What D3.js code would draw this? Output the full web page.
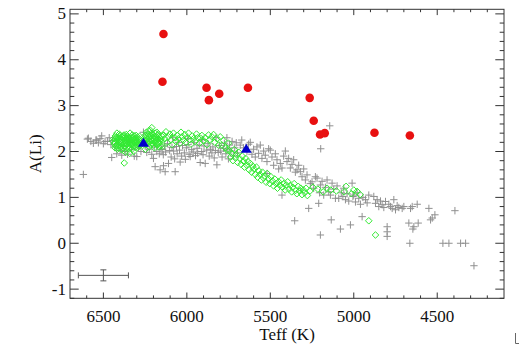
<!DOCTYPE html>
<html><head><meta charset="utf-8">
<script src="https://cdn.jsdelivr.net/npm/d3@7"></script>
<style>body{margin:0;background:#fff}svg{display:block}</style>
</head><body>
<svg id="c" width="520" height="345"></svg>
<script>
const xTicks = [6500, 6000, 5500, 5000, 4500];
const yTicks = [-1, 0, 1, 2, 3, 4, 5];
const xLabel = "Teff (K)";
const yLabel = "A(Li)";

const redStars = [[6140,4.56],[6146,3.52],[5882,3.39],[5868,3.12],[5806,3.26],[5634,3.39],
 [5264,3.17],[5240,2.67],[5202,2.37],[5174,2.40],[4876,2.41],[4664,2.35]];
const blueStars = [[6260,2.19],[5644,2.06]];
const errorBar = {teff:6500, ali:-0.70, dT:150, dA:0.12};

const greenStars = [
 [6438,2.28],[6432,2.20],[6428,2.34],[6425,2.12],[6420,2.25],[6416,2.05],[6412,2.30],[6408,2.18],[6405,2.38],[6400,2.22],
 [6396,2.10],[6392,2.32],[6388,2.26],[6384,2.15],[6380,2.02],[6376,2.36],[6372,2.24],[6368,2.19],[6364,2.29],[6360,2.08],
 [6356,2.34],[6352,2.21],[6348,2.13],[6344,2.27],[6340,2.40],[6336,2.17],[6332,2.25],[6328,2.05],[6324,2.31],[6320,2.22],
 [6316,2.12],[6312,2.28],[6308,2.19],[6304,2.35],[6300,2.24],[6296,2.09],[6292,2.30],[6288,2.20],[6284,2.15],[6280,2.26],
 [6435,2.16],[6422,2.31],[6410,2.24],[6398,2.28],[6386,2.20],[6374,2.12],[6362,2.25],[6350,2.30],[6338,2.23],[6326,2.18],
 [6314,2.34],[6302,2.15],[6290,2.26],[6418,2.14],[6394,2.05],[6370,2.32],[6346,2.07],[6322,2.28],[6298,2.21],[6430,2.08],
 [6406,2.26],[6382,2.34],[6358,2.16],[6334,2.30],[6310,2.24],[6286,2.11],[6366,1.98],[6342,1.96],[6318,2.00],
 [6441,2.22],[6427,2.27],[6413,2.09],[6401,2.35],[6389,2.17],[6377,2.28],[6363,2.37],[6351,2.11],[6339,2.19],[6327,2.36],
 [6315,2.20],[6303,2.29],[6291,2.16],[6283,2.33],[6419,2.40],[6397,2.19],[6379,2.08],[6355,2.26],[6331,2.13],[6307,2.09],
 [6255,2.25],[6250,2.35],[6246,2.15],[6242,2.42],[6238,2.28],[6234,2.20],[6230,2.38],[6226,2.10],[6222,2.31],[6218,2.46],
 [6214,2.24],[6210,2.52],[6206,2.18],[6202,2.36],[6198,2.28],[6194,2.08],[6190,2.40],[6186,2.22],[6182,2.32],[6178,2.15],
 [6174,2.27],[6170,2.38],[6166,2.20],[6162,2.30],[6158,2.12],[6154,2.25],[6248,2.05],[6236,2.33],[6224,2.22],[6212,2.40],
 [6200,2.14],[6188,2.30],[6176,2.36],[6164,2.24],[6152,2.34],[6240,2.26],[6228,2.45],[6216,2.16],[6204,2.30],[6192,2.20],
 [6180,2.42],[6168,2.10],[6156,2.28],[6252,2.30],[6233,2.27],[6219,2.35],[6207,2.23],[6195,2.33],[6183,2.26],[6171,2.19],
 [6145,2.11],[6140,2.36],[6132,2.28],[6125,2.43],[6118,2.20],[6110,2.32],[6102,2.38],[6095,2.25],[6088,2.15],[6080,2.40],
 [6072,2.30],[6065,2.22],[6058,2.35],[6050,2.28],[6042,2.18],[6035,2.42],[6028,2.32],[6020,2.25],[6012,2.37],[6005,2.20],
 [5998,2.30],[5990,2.40],[5982,2.26],[5975,2.16],[5968,2.34],[5960,2.28],[5950,2.22],[5942,2.38],[5935,2.30],[5925,2.18],
 [5918,2.29],[5910,2.35],[5900,2.24],[5890,2.30],[5880,2.15],[5870,2.36],[5862,2.26],[5850,2.32],[5840,2.37],[5832,2.20],
 [5820,2.28],[5810,2.14],[5800,2.32],[5790,2.14],[5780,2.24],[5770,2.08],[5760,2.03],[5750,2.18],
 [5745,2.02],[5738,1.88],[5731,1.96],[5724,1.80],[5716,2.04],[5709,1.86],[5702,1.93],[5695,1.76],[5688,1.98],[5682,1.84],
 [5675,1.72],[5668,1.90],[5661,1.79],[5655,1.66],[5648,1.85],[5641,1.70],[5634,1.78],[5627,1.60],[5620,1.74],[5612,1.55],
 [5605,1.68],[5598,1.62],[5590,1.50],[5583,1.66],[5576,1.44],[5569,1.58],[5562,1.50],[5554,1.38],[5547,1.55],[5540,1.42],
 [5533,1.47],[5525,1.33],[5518,1.52],[5510,1.40],[5503,1.30],[5496,1.45],[5488,1.36],[5480,1.25],[5473,1.40],[5465,1.30],
 [5457,1.20],[5450,1.34],[5442,1.26],[5435,1.38],[5427,1.22],[5419,1.30],[5411,1.16],[5404,1.27],[5396,1.34],[5388,1.18],
 [5380,1.26],[5372,1.12],[5365,1.22],[5357,1.30],[5349,1.15],[5341,1.08],[5333,1.24],[5326,1.14],[5318,1.20],[5310,1.06],
 [5302,1.16],[5294,1.10],[5286,1.20],[5278,1.04],
 [5262,1.14],[5245,1.22],[5215,1.18],[5183,1.12],[5160,1.20],[5138,1.16],[5104,1.14],[5058,1.12],[5046,1.24],[5014,1.08],
 [5000,1.16],[4980,1.13],[4962,1.06],[4910,0.49],[4870,0.18],[6375,1.75]
];

const grayStars = [
 [6620,1.50],[6596,2.27],[6590,2.29],[6575,2.22],[6560,2.18],[6545,2.25],[6540,2.25],[6530,2.19],[6520,2.28],[6510,2.34],
 [6500,2.17],[6490,2.22],[6476,2.22],[6465,2.30],[6455,2.15],[6450,1.87],[6445,2.24],
 [6430,2.10],[6420,1.95],[6410,2.18],[6400,2.02],[6390,1.92],[6380,2.12],[6370,2.00],[6355,1.94],[6345,2.20],[6330,2.04],
 [6315,1.90],[6300,1.89],[6290,2.08],[6275,2.00],[6260,2.42],[6250,2.12],[6240,1.98],[6225,2.05],[6210,1.94],[6200,1.85],
 [6195,2.10],[6190,1.67],[6180,2.00],[6165,1.95],[6160,1.60],[6155,2.05],[6140,1.69],[6130,1.56],
 [6148,2.04],[6141,1.93],[6133,2.12],[6127,1.99],[6116,2.17],[6110,1.74],[6103,2.02],[6094,1.88],[6089,2.09],[6079,2.01],
 [6073,1.84],[6070,1.56],[6062,2.11],[6058,1.95],[6049,2.20],[6044,2.03],[6040,1.77],[6031,1.90],[6026,2.13],[6015,1.97],
 [6009,1.83],[6003,2.08],[5993,2.15],[5987,1.94],[5980,1.89],[5971,2.04],[5962,1.99],[5957,2.19],[5948,1.91],[5939,2.07],
 [5935,1.96],[5926,2.14],[5920,1.76],[5911,2.00],[5903,1.93],[5897,2.12],[5890,1.74],[5881,2.03],[5873,2.17],[5866,1.90],
 [5859,2.05],[5850,1.97],[5844,2.10],[5836,1.86],[5829,2.02],[5820,1.71],[5812,1.98],[5806,2.13],[5797,2.01],[5789,1.88],
 [5781,2.07],[5775,2.18],[5766,1.95],[5759,2.05],[5751,1.84],[5744,2.14],[5736,2.01],[5729,2.22],[5722,1.90],[5713,2.08],
 [5704,2.19],[5697,1.97],[5680,2.14],[5671,2.25],[5661,2.08],
 [6085,2.30],[5995,2.28],[5905,2.26],[5825,2.30],[5760,2.30],
 [5640,2.00],[5630,2.16],[5620,2.20],[5610,1.94],[5600,2.05],[5590,1.88],[5580,2.10],[5570,1.96],[5560,2.14],[5550,1.85],
 [5540,2.01],[5530,1.92],[5520,1.78],[5510,2.06],[5500,2.03],[5490,1.88],[5480,1.70],[5470,1.95],[5460,1.82],[5450,1.62],
 [5440,1.74],[5430,1.64],[5420,1.90],[5410,2.01],[5400,1.78],[5390,1.85],[5380,1.64],[5370,1.72],[5360,1.82],[5350,1.55],
 [5340,1.60],[5330,1.70],[5320,1.56],[5310,1.45],[5300,1.62],[5290,1.38],[5280,1.49],[5430,1.05],[5354,0.49],[5520,1.52],
 [5270,0.76],[5260,1.30],[5250,1.34],[5240,1.20],[5230,1.45],[5220,1.42],[5210,0.87],[5205,1.10],[5200,1.27],[5198,2.06],
 [5190,1.35],[5180,1.05],[5170,1.22],[5160,1.38],[5150,1.12],[5144,2.56],[5140,1.05],[5135,0.51],[5130,1.31],[5120,1.18],
 [5110,0.98],[5100,1.25],[5090,0.98],[5080,0.31],[5075,1.10],[5065,1.02],[5060,1.20],[5050,0.95],[5040,1.08],[5030,0.92],
 [5020,0.40],[5010,1.31],[5005,1.02],[5000,1.05],[4990,0.90],[4980,1.10],[4970,0.98],[4960,0.85],[4950,0.58],[4945,1.00],
 [4930,0.95],[4920,0.88],[4910,1.05],[5200,0.18],
 [4880,1.02],[4870,0.87],[4860,0.95],[4850,0.80],[4840,0.92],[4830,0.84],[4820,0.78],[4810,0.91],[4800,0.36],[4800,0.25],
 [4800,0.15],[4790,0.85],[4780,0.80],[4770,0.76],[4760,0.95],[4750,0.73],[4740,0.82],[4730,0.78],[4710,0.76],[4700,0.80],
 [4670,0.44],[4664,0.00],[4660,0.76],[4650,0.80],[4646,0.31],[4640,0.36],[4620,0.85],[4614,0.44],[4550,0.76],[4540,0.51],
 [4530,0.55],[4514,0.62],[4394,0.71],[4466,0.00],[4430,0.00],[4360,0.00],[4330,0.00],[4280,-0.49]
];

const svg = d3.select("#c");
const L = 70, R = 504, T = 9.3, B = 298.3;
const x = d3.scaleLinear().domain([6700, 4100]).range([L, R]);
const y = d3.scaleLinear().domain([-1.2, 5.1]).range([B, T]);
const font = "Liberation Serif, Times New Roman, serif";
const axisColor = "#333";

svg.append("g").selectAll("path").data(grayStars).join("path")
  .attr("transform", d => `translate(${x(d[0])},${y(d[1])})`)
  .attr("d", "M-3.7,0H3.7M0,-3.7V3.7")
  .attr("stroke", "#909090").attr("stroke-width", 1).attr("fill", "none");

svg.append("g").selectAll("path").data(greenStars).join("path")
  .attr("transform", d => `translate(${x(d[0])},${y(d[1])})`)
  .attr("d", "M0,-3.3L3.3,0L0,3.3L-3.3,0Z")
  .attr("stroke", "#33ea33").attr("stroke-width", 1).attr("fill", "none");

svg.append("g").selectAll("path").data(blueStars).join("path")
  .attr("transform", d => `translate(${x(d[0])},${y(d[1])})`)
  .attr("d", "M0,-5L5.5,4L-5.5,4Z")
  .attr("fill", "#0000cc");

svg.append("g").selectAll("circle").data(redStars).join("circle")
  .attr("cx", d => x(d[0])).attr("cy", d => y(d[1])).attr("r", 4.3)
  .attr("fill", "#e81010");

const eb = svg.append("g").attr("stroke", "#555").attr("stroke-width", 1).attr("fill", "none");
const ex0 = x(errorBar.teff - errorBar.dT), ex1 = x(errorBar.teff + errorBar.dT);
const ey = y(errorBar.ali), ey0 = y(errorBar.ali - errorBar.dA), ey1 = y(errorBar.ali + errorBar.dA);
const ex = x(errorBar.teff);
eb.append("line").attr("x1", ex0).attr("x2", ex1).attr("y1", ey).attr("y2", ey);
eb.append("line").attr("x1", ex0).attr("x2", ex0).attr("y1", ey - 3).attr("y2", ey + 3);
eb.append("line").attr("x1", ex1).attr("x2", ex1).attr("y1", ey - 3).attr("y2", ey + 3);
eb.append("line").attr("x1", ex).attr("x2", ex).attr("y1", ey0).attr("y2", ey1);
eb.append("line").attr("x1", ex - 3).attr("x2", ex + 3).attr("y1", ey0).attr("y2", ey0);
eb.append("line").attr("x1", ex - 3).attr("x2", ex + 3).attr("y1", ey1).attr("y2", ey1);

svg.append("rect").attr("x", L).attr("y", T).attr("width", R - L).attr("height", B - T)
  .attr("fill", "none").attr("stroke", axisColor).attr("stroke-width", 1);

const xMinor = d3.range(4200, 6700, 100).filter(v => !xTicks.includes(v));
const yMinor = d3.range(-12, 52, 2).map(v => v / 10).filter(v => !yTicks.includes(v));
const xMaj = 5.8, xMin = 2.9, yMaj = 8.7, yMin = 4.3;

function xAxis(g, pos, sign) {
  g.selectAll(null).data(xTicks).join("line")
    .attr("x1", d => x(d)).attr("x2", d => x(d)).attr("y1", pos).attr("y2", pos + sign * xMaj);
  g.selectAll(null).data(xMinor).join("line")
    .attr("x1", d => x(d)).attr("x2", d => x(d)).attr("y1", pos).attr("y2", pos + sign * xMin);
}
function yAxis(g, pos, sign) {
  g.selectAll(null).data(yTicks).join("line")
    .attr("y1", d => y(d)).attr("y2", d => y(d)).attr("x1", pos).attr("x2", pos + sign * yMaj);
  g.selectAll(null).data(yMinor).join("line")
    .attr("y1", d => y(d)).attr("y2", d => y(d)).attr("x1", pos).attr("x2", pos + sign * yMin);
}
const tg = svg.append("g").attr("stroke", axisColor).attr("stroke-width", 1);
xAxis(tg.append("g"), B, -1);
xAxis(tg.append("g"), T, 1);
yAxis(tg.append("g"), L, 1);
yAxis(tg.append("g"), R, -1);

svg.append("g").selectAll("text").data(xTicks).join("text")
  .attr("x", d => x(d)).attr("y", 322).attr("text-anchor", "middle")
  .style("font-family", font).attr("font-size", 17).attr("fill", "#111").text(d => d);
svg.append("g").selectAll("text").data(yTicks).join("text")
  .attr("x", 66).attr("y", d => y(d)).attr("dy", "0.33em").attr("text-anchor", "end")
  .style("font-family", font).attr("font-size", 17).attr("fill", "#111").text(d => d);

svg.append("text").attr("x", (L + R) / 2).attr("y", 340).attr("text-anchor", "middle")
  .style("font-family", font).attr("font-size", 17).attr("fill", "#111").text(xLabel);
svg.append("text").attr("transform", `translate(41,${(T + B) / 2}) rotate(-90)`)
  .attr("text-anchor", "middle").style("font-family", font).attr("font-size", 17)
  .attr("fill", "#111").text(yLabel);

svg.append("path").attr("d", "M515.5,333V343.5H519").attr("stroke", "#666").attr("fill", "none").attr("stroke-width", 1);
</script>
</body></html>
